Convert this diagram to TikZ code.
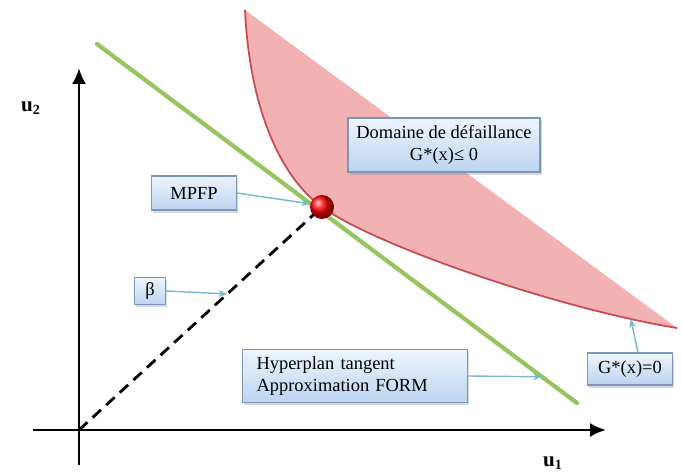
\documentclass[tikz,border=0pt]{standalone}
\usepackage{fontspec}
\setmainfont{Liberation Serif}
\usetikzlibrary{arrows.meta, calc, shadows}
\definecolor{cZone}{RGB}{242,178,180}
\definecolor{cZoneLine}{RGB}{200,74,82}
\definecolor{cTan}{RGB}{150,196,94}
\definecolor{cBoxTop}{RGB}{238,245,253}
\definecolor{cBoxBot}{RGB}{188,212,240}
\definecolor{cBoxLine}{RGB}{122,150,188}
\definecolor{cPtr}{RGB}{118,188,200}

\begin{document}
\begin{tikzpicture}[
    x=0.02cm, y=-0.02cm, font=\fontsize{10.5}{12.5}\selectfont,
    axis/.style={-{Latex[length=9pt, width=8pt]}, line width=1.6pt, black},
    tangent/.style={draw=cTan, line width=2.4pt, line cap=round},
    beta/.style={dash pattern=on 6.5pt off 4pt, line width=1.6pt, black},
    box/.style={draw=cBoxLine, line width=0.6pt, top color=cBoxTop,
                bottom color=cBoxBot, inner sep=3pt,
                drop shadow={opacity=0.3, shadow xshift=1pt, shadow yshift=-1.5pt}},
    ptr/.style={-{Stealth[length=5pt, width=4pt]}, line width=0.8pt, cPtr},
    axlbl/.style={font=\fontsize{12}{14}\selectfont\bfseries, inner sep=1pt},
]
\useasboundingbox (0,0) rectangle (682,475);

% ===================== Domaine de defaillance =====================
\fill[cZone] (245,10) .. controls (250,115) and (284,180) .. (322,207)
      .. controls (372,244) and (555,308) .. (677,328) -- cycle;
\draw[cZoneLine, line width=1pt] (245,10) .. controls (250,115) and (284,180) .. (322,207)
      .. controls (372,244) and (555,308) .. coordinate[pos=0.88] (gc) (677,328);

% ===================== Hyperplan tangent =====================
\coordinate (tA) at (97,44);
\coordinate (tB) at (577,403);
\draw[tangent] (tA) -- coordinate[pos=0.927] (th) (tB);

% ===================== Axes =====================
\coordinate (O) at (79,430);
\draw[axis] (79,465) -- (79,68);
\draw[axis] (33,430) -- (606,430);
\node[axlbl] (u2) at (31,108) {u$_{\mathbf{2}}$};
\node[axlbl] (u1) at (553,463) {u$_{\mathbf{1}}$};

% ===================== MPFP et beta =====================
\coordinate (mpc) at (322,207);
\draw[beta] (O) -- coordinate[pos=0.61] (bp) (mpc);
\node[circle, inner sep=0pt, minimum size=0.48cm, ball color=red] (mp) at (mpc) {};

% ===================== Etiquettes =====================
\node[box, minimum width=3.84cm, minimum height=1.08cm, align=center] (dom)
      at (444,145) {Domaine de défaillance\\G*(x)≤ 0};
\node[box, minimum width=1.7cm, minimum height=0.68cm] (mpfp) at (194,193) {MPFP};
\node[box, minimum width=0.62cm, minimum height=0.46cm] (bet) at (150,291) {β};
\node[box, minimum width=4.5cm, minimum height=1.06cm, inner xsep=0.28cm,
      text width=3.94cm, align=left] (hyp)
      at (355,376) {Hyperplan tangent\\Approximation FORM};
\node[box, minimum width=1.7cm, minimum height=0.64cm] (gzero) at (630,369) {G*(x)=0};

% ===================== Fleches =====================
\draw[ptr] (mpfp.east) -- (mp.165);
\draw[ptr] (bet.east) -- (bp);
\draw[ptr] (hyp.east) -- (th);
\draw[ptr] ($(gzero.north)+(8,0)$) -- (gc);

\end{tikzpicture}
\end{document}
